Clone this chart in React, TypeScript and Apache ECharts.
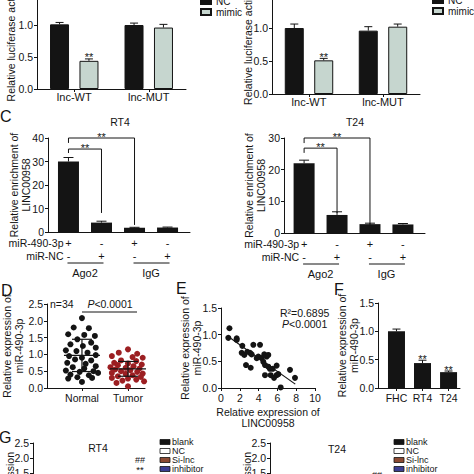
import React, { useEffect, useRef } from 'react';
import * as echarts from 'echarts';

const FONT = '"Liberation Sans", Arial, Helvetica, sans-serif';
const INK = '#141414';
const MIMIC_FILL = '#c6d6cf';
const TUMOR_RED = '#9c1f22';

// ---------- Luciferase reporter (top row) ----------
const lucCategories = ['lnc-WT', 'lnc-MUT'];
const lucRT4NC = [1.01, 1.0];
const lucRT4NCErr = [0.03, 0.03];
const lucRT4Mimic = [0.44, 0.96];
const lucRT4MimicErr = [0.03, 0.05];
const lucT24NC = [1.0, 0.96];
const lucT24NCErr = [0.06, 0.06];
const lucT24Mimic = [0.51, 1.02];
const lucT24MimicErr = [0.03, 0.04];
const lucMimicSig = ['**', ''];

// ---------- C: RIP ----------
const ripRowMiR = ['+', '-', '+', '-'];
const ripRowNC = ['-', '+', '-', '+'];
const ripGroups = ['Ago2', 'IgG'];
const ripRT4 = [30, 4, 1.8, 1.9];
const ripRT4Err = [1.7, 0.6, 0.2, 0.2];
const ripT24 = [22, 5.7, 2.8, 2.7];
const ripT24Err = [1.0, 1.0, 0.3, 0.3];
// [from bar, to bar, bracket top, left leg end, right leg end]
const ripRT4Brackets = [[1, 2, 35.3, 33.6, 8.1], [1, 3, 40, 37.9, 3.0]];
const ripT24Brackets = [[1, 2, 26.8, 25.3, 6.3], [1, 3, 30, 28.4, 2.5]];

// ---------- D: tissues ----------
const tissueCategories = ['Normal', 'Tumor'];
// [horizontal jitter, value]
const normalPoints = [
  [0.0, 2.08], [-0.18, 1.8], [0.15, 1.78], [-0.3, 1.6], [0.05, 1.58], [0.28, 1.55],
  [-0.1, 1.45], [0.2, 1.35], [-0.25, 1.3], [0.02, 1.25], [0.3, 1.2], [-0.35, 1.12],
  [-0.12, 1.1], [0.12, 1.05], [0.3, 0.98], [-0.28, 0.95], [0.0, 0.9], [-0.15, 0.85],
  [0.2, 0.82], [-0.32, 0.75], [0.08, 0.72], [0.3, 0.65], [-0.2, 0.62], [0.05, 0.58],
  [-0.35, 0.52], [0.25, 0.5], [-0.05, 0.48], [0.35, 0.45], [-0.25, 0.4], [0.15, 0.38],
  [-0.1, 0.32], [0.22, 0.3], [-0.3, 0.28], [0.0, 0.18],
];
const tumorPoints = [
  [0.0, 1.15], [-0.2, 1.05], [0.2, 1.02], [-0.35, 0.95], [0.1, 0.92], [0.32, 0.9],
  [-0.15, 0.82], [0.18, 0.8], [-0.3, 0.75], [0.0, 0.73], [0.3, 0.7], [-0.22, 0.68],
  [0.12, 0.65], [-0.38, 0.62], [-0.05, 0.6], [0.25, 0.58], [0.38, 0.56], [-0.28, 0.55],
  [0.05, 0.53], [-0.15, 0.5], [0.2, 0.48], [-0.35, 0.45], [0.32, 0.43], [-0.05, 0.42],
  [0.1, 0.38], [-0.22, 0.35], [0.28, 0.33], [-0.35, 0.3], [0.0, 0.28], [0.18, 0.25],
  [-0.12, 0.22], [0.35, 0.2], [-0.25, 0.15], [0.0, 0.05],
];
const normalMeanSD = [0.97, 0.48];
const tumorMeanSD = [0.57, 0.22];

// ---------- E: correlation ----------
const corrX = [0.9, 0.78, 1.67, 1.67, 2.27, 2.2, 2.48, 2.8, 3.09, 3.26, 3.44, 4.15, 2.66, 3.16, 3.8, 3.97, 4.33,
  4.6, 4.86, 5.03, 4.5, 4.68, 5.03, 5.2, 5.5, 4.68, 5.29, 5.64, 5.92, 5.92, 6.1, 6.35, 7.34, 7.87];
const corrY = [1.12, 0.94, 0.93, 0.9, 0.79, 0.66, 0.62, 0.68, 0.66, 0.63, 0.81, 0.81, 0.43, 0.38, 0.56, 0.59, 0.56,
  0.63, 0.59, 0.62, 0.49, 0.43, 0.4, 0.36, 0.36, 0.24, 0.24, 0.19, 0.42, 0.24, 0.26, 0.01, 0.34, 0.19];
const fitIntercept = 1.06;
const fitSlope = -0.125;
const fitRange = [0.8, 7.9];

// ---------- F: cell lines ----------
const cellCategories = ['FHC', 'RT4', 'T24'];
const cellValues = [1.0, 0.44, 0.28];
const cellErr = [0.04, 0.05, 0.02];
const cellSig = ['', '**', '**'];

// ---------- G ----------
const gLegend = ['blank', 'NC', 'Si-lnc', 'inhibitor'];
const gColors = [INK, '#ffffff', '#8b4a32', '#3b3e92'];

const grids = [
  { left: 37, top: -7, width: 149, height: 96 },
  { left: 272, top: -5, width: 148, height: 99 },
  { left: 48, top: 138, width: 142, height: 94 },
  { left: 284, top: 138, width: 141, height: 95 },
  { left: 47, top: 304, width: 98, height: 84 },
  { left: 221, top: 308, width: 94, height: 80 },
  { left: 378, top: 303, width: 82, height: 85 },
  { left: 33, top: 443, width: 150, height: 75 },
  { left: 270, top: 443, width: 150, height: 75 },
];

const lineStyle = { color: INK, width: 1 };
const f1 = (v: number) => v.toFixed(1);

function yAx(g: number, min: number, max: number, interval: number, fmt: any, name = '', nameGap = 15) {
  return {
    gridIndex: g, type: 'value', min, max, interval,
    axisLine: { show: true, onZero: false, lineStyle },
    axisTick: { show: true, length: 3, lineStyle },
    axisLabel: { color: INK, fontSize: 10.5, margin: 4, fontFamily: FONT, formatter: fmt },
    splitLine: { show: false },
    name, nameLocation: 'middle', nameGap, nameRotate: 90, nameMoveOverlap: false,
    nameTextStyle: { color: INK, fontSize: 10.5, fontFamily: FONT, lineHeight: 12 },
  };
}

function xValAx(g: number, min: number, max: number, labels: string[] | null, showTick: boolean, fmt?: any) {
  const custom = labels ? labels.map((_, i) => i + 1) : [];
  return {
    gridIndex: g, type: 'value', min, max,
    axisLine: { show: true, onZero: false, lineStyle },
    axisTick: { show: showTick, length: 3, lineStyle, customValues: custom },
    axisLabel: {
      show: !!labels, color: INK, fontSize: 10.5, margin: 4, fontFamily: FONT, customValues: custom,
      formatter: fmt || ((v: number) => (labels ? labels[Math.round(v) - 1] : '')),
    },
    splitLine: { show: false },
  };
}

function errSeries(g: number, xs: number[], vals: number[], errs: number[], offset: number, sig: string[] = [], cap = 4) {
  return {
    type: 'custom', xAxisIndex: g, yAxisIndex: g, silent: true, z: 5, clip: false,
    data: vals.map((v, i) => [xs[i], v, errs[i]]),
    renderItem: (params: any, api: any) => {
      const x = api.value(0), v = api.value(1), e = api.value(2);
      const b = api.coord([x, v]);
      const t = api.coord([x, v + e]);
      const cx = b[0] + offset;
      const children: any[] = [
        { type: 'line', shape: { x1: cx, y1: b[1], x2: cx, y2: t[1] }, style: { stroke: INK, lineWidth: 1 } },
        { type: 'line', shape: { x1: cx - cap, y1: t[1], x2: cx + cap, y2: t[1] }, style: { stroke: INK, lineWidth: 1 } },
      ];
      const s = sig[params.dataIndex];
      if (s) {
        children.push({ type: 'text', x: cx, y: t[1] + 4, style: { text: s, fill: INK, fontSize: 11, fontFamily: FONT, align: 'center', verticalAlign: 'bottom' } });
      }
      return { type: 'group', children };
    },
  };
}

function bracketSeries(g: number, data: number[][]) {
  return {
    type: 'custom', xAxisIndex: g, yAxisIndex: g, silent: true, z: 5, clip: false,
    data,
    renderItem: (params: any, api: any) => {
      const a = api.value(0), b = api.value(1), top = api.value(2), l = api.value(3), r = api.value(4);
      const pL = api.coord([a, l]), pTL = api.coord([a, top]), pTR = api.coord([b, top]), pR = api.coord([b, r]);
      return {
        type: 'group', children: [
          { type: 'polyline', shape: { points: [pL, pTL, pTR, pR] }, style: { stroke: INK, lineWidth: 1, fill: null } },
          { type: 'text', x: (pTL[0] + pTR[0]) / 2, y: pTL[1] + 4, style: { text: '**', fill: INK, fontSize: 11, fontFamily: FONT, align: 'center', verticalAlign: 'bottom' } },
        ],
      };
    },
  };
}

function meanSDSeries(g: number, data: number[][]) {
  return {
    type: 'custom', xAxisIndex: g, yAxisIndex: g, silent: true, z: 6, clip: false,
    data,
    renderItem: (params: any, api: any) => {
      const x = api.value(0), m = api.value(1), sd = api.value(2);
      const pm = api.coord([x, m]), pu = api.coord([x, m + sd]), pd = api.coord([x, m - sd]);
      const st = { stroke: INK, lineWidth: 1.2 };
      return {
        type: 'group', children: [
          { type: 'line', shape: { x1: pm[0] - 18, y1: pm[1], x2: pm[0] + 18, y2: pm[1] }, style: st },
          { type: 'line', shape: { x1: pm[0], y1: pu[1], x2: pm[0], y2: pd[1] }, style: st },
          { type: 'line', shape: { x1: pm[0] - 10, y1: pu[1], x2: pm[0] + 10, y2: pu[1] }, style: st },
          { type: 'line', shape: { x1: pm[0] - 10, y1: pd[1], x2: pm[0] + 10, y2: pd[1] }, style: st },
        ],
      };
    },
  };
}

function catAx(g: number) {
  return {
    gridIndex: g, type: 'category', data: lucCategories,
    axisLine: { show: true, onZero: false, lineStyle },
    axisTick: { show: true, alignWithLabel: true, length: 3, lineStyle },
    axisLabel: { color: INK, fontSize: 11, margin: 2, fontFamily: FONT },
  };
}

function lucBars(g: number, nc: number[], mimic: number[]) {
  const common = { xAxisIndex: g, yAxisIndex: g, type: 'bar', barWidth: 19, barGap: '55%' };
  return [
    { ...common, name: 'NC', data: nc, itemStyle: { color: INK, borderColor: INK, borderWidth: 1 } },
    { ...common, name: 'mimic', data: mimic, itemStyle: { color: MIMIC_FILL, borderColor: INK, borderWidth: 1 } },
  ];
}

const idx = (arr: any[]) => arr.map((_, i) => i + 1);

export default function App() {
  const ref = useRef<HTMLDivElement>(null);
  useEffect(() => {
    if (!ref.current) return;
    const chart = echarts.init(ref.current, undefined, { renderer: 'svg' });
    const ripFmt = (v: number) => {
      const i = Math.round(v) - 1;
      return `${ripRowMiR[i]}\n${ripRowNC[i]}`;
    };
    const ripLabel = { color: INK, fontSize: 11, lineHeight: 12.5, margin: 5, fontFamily: FONT, customValues: [1, 2, 3, 4], formatter: ripFmt };
    const legendBase = {
      data: ['NC', 'mimic'], orient: 'vertical', icon: 'rect', itemWidth: 10, itemHeight: 6,
      itemGap: 1, selectedMode: false, textStyle: { fontSize: 10, lineHeight: 10, color: INK, fontFamily: FONT },
    };
    const option: any = {
      animation: false,
      backgroundColor: '#ffffff',
      textStyle: { fontFamily: FONT, color: INK },
      grid: grids.map((g) => ({ ...g, containLabel: false, outerBoundsMode: 'none' })),
      legend: [
        { ...legendBase, left: 195, top: -9 },
        { ...legendBase, left: 427, top: -10 },
      ],
      xAxis: [
        catAx(0),
        catAx(1),
        { ...xValAx(2, 0.38, 4.68, ripRowMiR, false, ripFmt), axisLabel: ripLabel },
        { ...xValAx(3, 0.39, 4.67, ripRowMiR, false, ripFmt), axisLabel: ripLabel },
        xValAx(4, 0.24, 2.37, tissueCategories, true),
        {
          gridIndex: 5, type: 'value', min: 0, max: 10, interval: 2,
          axisLine: { show: true, onZero: false, lineStyle },
          axisTick: { show: true, length: 3, lineStyle },
          axisLabel: { color: INK, fontSize: 10.5, margin: 4, fontFamily: FONT },
          splitLine: { show: false },
          name: 'Relative expression of\nLINC00958', nameLocation: 'middle', nameGap: 18, nameMoveOverlap: false,
          nameTextStyle: { color: INK, fontSize: 10.5, fontFamily: FONT, lineHeight: 11.5 },
        },
        xValAx(6, 0.29, 3.44, cellCategories, true),
        { gridIndex: 7, type: 'category', data: gLegend, show: false },
        { gridIndex: 8, type: 'category', data: gLegend, show: false },
      ],
      yAxis: [
        yAx(0, 0, 1.5, 0.5, f1, 'Relative luciferase activity', 20),
        yAx(1, 0, 1.5, 0.5, f1, 'Relative luciferase activity', 18),
        yAx(2, 0, 40, 10, (v: number) => String(v), 'Relative enrichment of\nLINC00958', 16),
        yAx(3, 0, 30, 10, (v: number) => String(v), 'Relative enrichment of\nLINC00958', 17),
        yAx(4, 0, 2.5, 0.5, f1, 'Relative expression of\nmiR-490-3p', 22),
        yAx(5, 0, 1.5, 0.5, f1, 'Relative expression of\nmiR-490-3p', 18),
        yAx(6, 0, 1.5, 0.5, f1, 'Relative expression of\nmiR-490-3p', 18),
        yAx(7, 0, 2.5, 0.5, f1),
        yAx(8, 0, 2.5, 0.5, f1),
      ],
      series: [
        ...lucBars(0, lucRT4NC, lucRT4Mimic),
        errSeries(0, [0, 1], lucRT4NC, lucRT4NCErr, -14.7),
        errSeries(0, [0, 1], lucRT4Mimic, lucRT4MimicErr, 14.7, lucMimicSig),
        ...lucBars(1, lucT24NC, lucT24Mimic),
        errSeries(1, [0, 1], lucT24NC, lucT24NCErr, -14.7),
        errSeries(1, [0, 1], lucT24Mimic, lucT24MimicErr, 14.7, lucMimicSig),
        {
          type: 'bar', name: 'RIP RT4', xAxisIndex: 2, yAxisIndex: 2, barWidth: 21,
          data: ripRT4.map((v, i) => [i + 1, v]), itemStyle: { color: INK },
        },
        errSeries(2, idx(ripRT4), ripRT4, ripRT4Err, 0, [], 5),
        bracketSeries(2, ripRT4Brackets),
        {
          type: 'bar', name: 'RIP T24', xAxisIndex: 3, yAxisIndex: 3, barWidth: 21,
          data: ripT24.map((v, i) => [i + 1, v]), itemStyle: { color: INK },
        },
        errSeries(3, idx(ripT24), ripT24, ripT24Err, 0, [], 5),
        bracketSeries(3, ripT24Brackets),
        {
          type: 'scatter', name: 'Normal', xAxisIndex: 4, yAxisIndex: 4, symbolSize: 6,
          data: normalPoints.map(([dx, v]) => [1 + dx, v]), itemStyle: { color: INK, opacity: 1 },
        },
        {
          type: 'scatter', name: 'Tumor', xAxisIndex: 4, yAxisIndex: 4, symbolSize: 6,
          data: tumorPoints.map(([dx, v]) => [2 + dx, v]), itemStyle: { color: TUMOR_RED, opacity: 1 },
        },
        meanSDSeries(4, [[1, normalMeanSD[0], normalMeanSD[1]], [2, tumorMeanSD[0], tumorMeanSD[1]]]),
        {
          type: 'scatter', name: 'corr', xAxisIndex: 5, yAxisIndex: 5, symbolSize: 6,
          data: corrX.map((x, i) => [x, corrY[i]]), itemStyle: { color: INK, opacity: 1 },
        },
        {
          type: 'line', name: 'fit', xAxisIndex: 5, yAxisIndex: 5, showSymbol: false, clip: false,
          data: fitRange.map((x) => [x, fitIntercept + fitSlope * x]), lineStyle: { color: INK, width: 1.2 },
        },
        {
          type: 'bar', name: 'cells', xAxisIndex: 6, yAxisIndex: 6, barWidth: 17,
          data: cellValues.map((v, i) => [i + 1, v]), itemStyle: { color: INK },
        },
        errSeries(6, idx(cellValues), cellValues, cellErr, 0, cellSig, 4),
      ],
    };
    chart.setOption(option);

    const px = (g: number, x: number, y: number) => chart.convertToPixel({ gridIndex: g } as any, [x, y]) as number[];
    const txt = (x: number, y: number, text: string, size = 10.5, align = 'left', extra: any = {}) => ({
      type: 'text', x, y, silent: true,
      style: { text, fill: INK, fontSize: size, fontFamily: FONT, align, verticalAlign: 'middle', ...extra },
    });
    const seg = (x1: number, y1: number, x2: number, y2: number) => ({
      type: 'line', silent: true, shape: { x1, y1, x2, y2 }, style: { stroke: INK, lineWidth: 1 },
    });

    const graphics: any[] = [];
    // panel letters
    graphics.push(txt(0, 116, 'C', 16), txt(1, 290, 'D', 16), txt(176, 288, 'E', 16), txt(334, 289, 'F', 16), txt(-1, 437, 'G', 16));
    // C titles and row/group labels
    graphics.push(txt(120, 122, 'RT4', 10.5, 'center'), txt(355, 122, 'T24', 10.5, 'center'));
    [2, 3].forEach((g) => {
      const first = px(g, 1, 0);
      graphics.push(txt(first[0] - 5, first[1] + 11, 'miR-490-3p', 10.5, 'right'));
      graphics.push(txt(first[0] - 5, first[1] + 23.5, 'miR-NC', 10.5, 'right'));
      ripGroups.forEach((name, k) => {
        const a = px(g, 2 * k + 1, 0);
        const b = px(g, 2 * k + 2, 0);
        graphics.push(seg(a[0] - 1, a[1] + 31, b[0] + 2, a[1] + 31));
        graphics.push(txt((a[0] + b[0]) / 2, a[1] + 41, name, 11, 'center'));
      });
    });
    // D annotations
    graphics.push(txt(50, 304, 'n=34', 10.5));
    graphics.push({
      type: 'text', x: 110, y: 304, silent: true,
      style: {
        text: '{i|P}<0.0001', fill: INK, fontSize: 10.5, fontFamily: FONT, align: 'center', verticalAlign: 'middle',
        rich: { i: { fontStyle: 'italic', fontSize: 10.5, fontFamily: FONT, fill: INK } },
      },
    });
    graphics.push(seg(82, 312, 137, 312));
    // E annotations
    graphics.push(txt(280, 313, 'R²=0.6895', 10.5));
    graphics.push({
      type: 'text', x: 282, y: 324, silent: true,
      style: {
        text: '{i|P}<0.0001', fill: INK, fontSize: 10.5, fontFamily: FONT, align: 'left', verticalAlign: 'middle',
        rich: { i: { fontStyle: 'italic', fontSize: 10.5, fontFamily: FONT, fill: INK } },
      },
    });
    // G titles, legends, marks
    graphics.push(txt(98, 448, 'RT4', 10.5, 'center'), txt(337, 449, 'T24', 10.5, 'center'));
    [[160, 172], [394, 406]].forEach(([bx, tx]) => {
      gLegend.forEach((name, i) => {
        const yc = 442 + 9 * i;
        graphics.push({ type: 'rect', silent: true, shape: { x: bx, y: yc - 2.5, width: 10, height: 5 }, style: { fill: gColors[i], stroke: INK, lineWidth: 0.8 } });
        graphics.push(txt(tx, yc, name, 9, 'left', { lineHeight: 9 }));
      });
    });
    graphics.push(txt(140, 460, '##', 9, 'center', { lineHeight: 8 }), txt(140, 469, '**', 9.5, 'center', { lineHeight: 8 }), txt(377, 475, '##', 9, 'center', { lineHeight: 8 }));
    graphics.push({
      type: 'text', x: 10, y: 452, rotation: Math.PI / 2, silent: true,
      style: { text: 'Relative expression', fill: INK, fontSize: 10.5, fontFamily: FONT, align: 'right', verticalAlign: 'middle' },
    });
    graphics.push({
      type: 'text', x: 247, y: 452, rotation: Math.PI / 2, silent: true,
      style: { text: 'Relative expression', fill: INK, fontSize: 10.5, fontFamily: FONT, align: 'right', verticalAlign: 'middle' },
    });

    chart.setOption({ graphic: graphics });
    return () => chart.dispose();
  }, []);
  return <div ref={ref} style={{ position: 'absolute', left: 0, top: 0, width: 474, height: 474, background: '#fff' }} />;
}
